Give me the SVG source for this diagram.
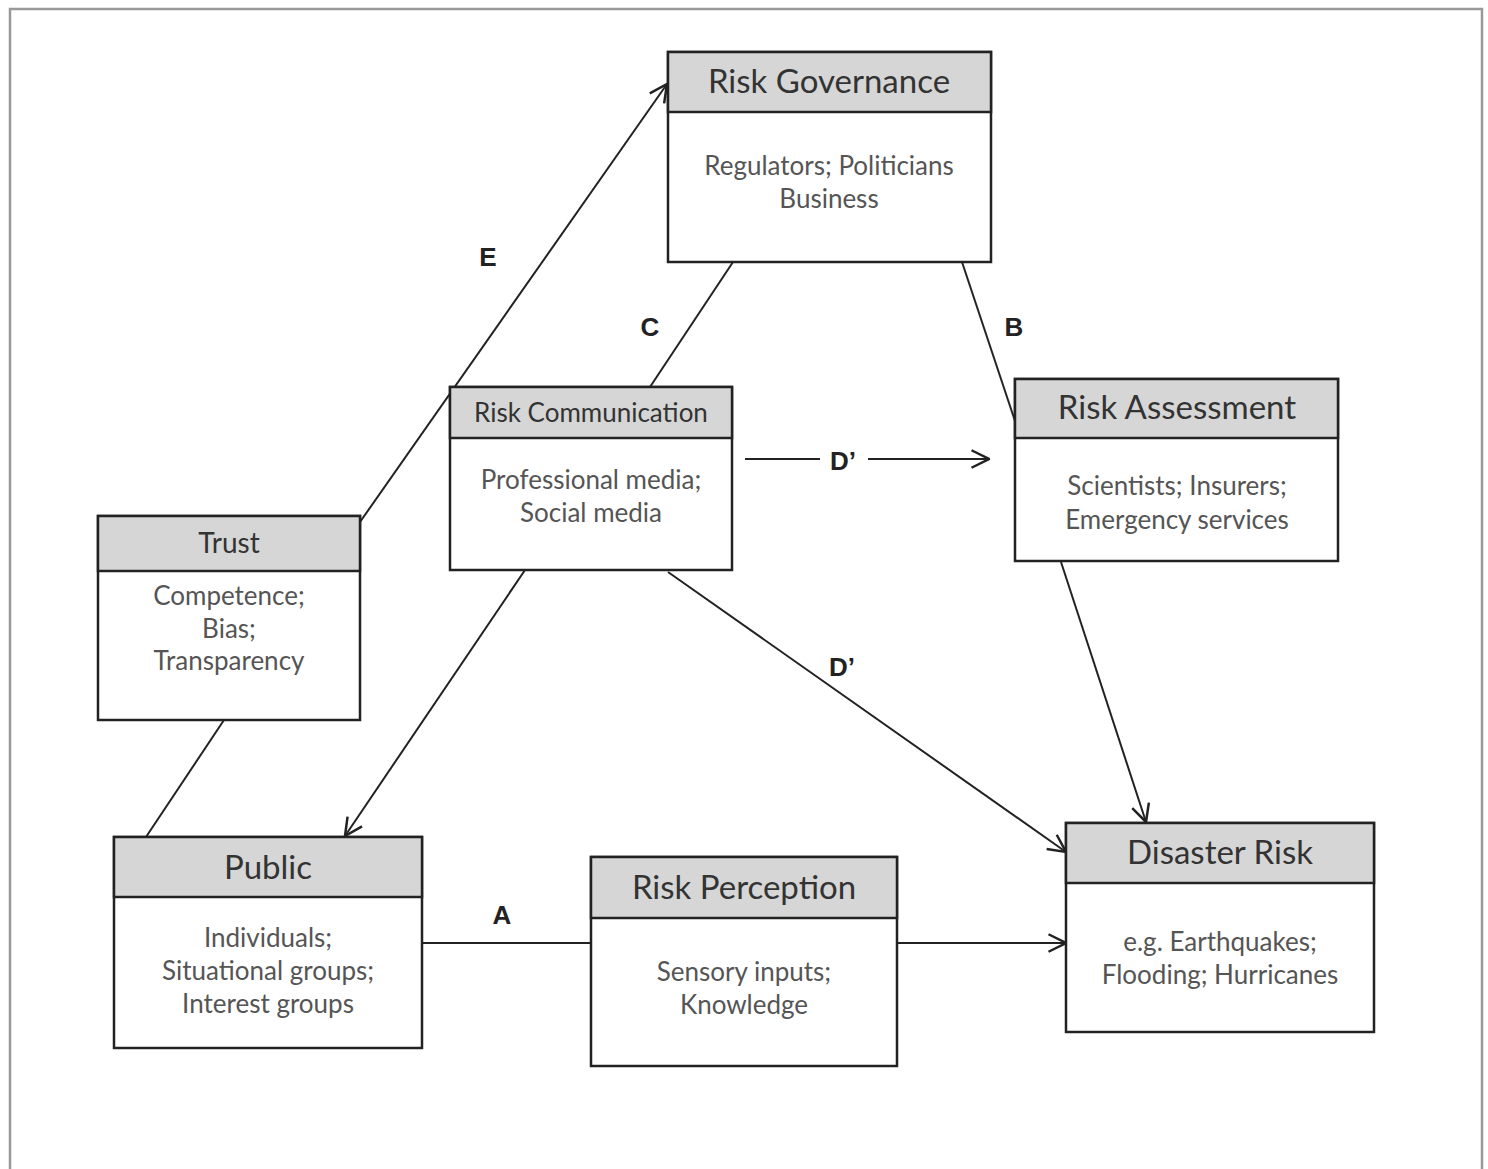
<svg xmlns="http://www.w3.org/2000/svg" width="1488" height="1169" viewBox="0 0 1488 1169">
<style>
.box{fill:#fff;stroke:#222;stroke-width:2.5}
.hdr{fill:#d6d6d6;stroke:#222;stroke-width:2.5}
.t{font-family:Lato,"Liberation Sans",sans-serif;fill:#333;text-anchor:middle}
.tl{font-size:33px}
.tm{font-size:28px}
.b{font-family:Lato,"Liberation Sans",sans-serif;fill:#555;font-size:26px;text-anchor:middle}
.lbl{font-family:"Liberation Sans",Arial,sans-serif;font-weight:bold;font-size:26px;fill:#222;text-anchor:middle}
.c{fill:none;stroke:#222;stroke-width:2}
</style>
<defs>
<marker id="arr2" viewBox="0 0 16 16" refX="15" refY="8" markerWidth="20" markerHeight="20" markerUnits="userSpaceOnUse" orient="auto">
<path d="M1,1 L15,8 L1,15" fill="none" stroke="#222" stroke-width="2"/>
</marker>
</defs>
<rect width="1488" height="1169" fill="#fff"/>
<path d="M10,1169 L10,9 L1482,9 L1482,1169" fill="none" stroke="#999" stroke-width="2.5"/>

<g id="connectors">
<line class="c" x1="360" y1="522" x2="667" y2="84" marker-end="url(#arr2)"/>
<line class="c" x1="733" y1="262" x2="650" y2="387"/>
<line class="c" x1="962" y1="262" x2="1016" y2="424"/>
<line class="c" x1="745" y1="459" x2="820" y2="459"/>
<line class="c" x1="868" y1="459" x2="989" y2="459" marker-end="url(#arr2)"/>
<line class="c" x1="668" y1="572" x2="1066" y2="852" marker-end="url(#arr2)"/>
<line class="c" x1="1061" y1="562" x2="1146" y2="822" marker-end="url(#arr2)"/>
<line class="c" x1="525" y1="570" x2="345" y2="836" marker-end="url(#arr2)"/>
<line class="c" x1="224" y1="720" x2="146" y2="837"/>
<line class="c" x1="422" y1="943" x2="591" y2="943"/>
<line class="c" x1="897" y1="943" x2="1066" y2="943" marker-end="url(#arr2)"/>
<text class="lbl" x="488" y="266">E</text>
<text class="lbl" x="650" y="336">C</text>
<text class="lbl" x="1014" y="336">B</text>
<text class="lbl" x="843" y="470">D’</text>
<text class="lbl" x="842" y="676">D’</text>
<text class="lbl" x="502" y="924">A</text>
</g>

<g id="risk-governance">
<rect class="box" x="668" y="52" width="323" height="210"/>
<rect class="hdr" x="668" y="52" width="323" height="60"/>
<text class="t tl" x="829" y="93">Risk Governance</text>
<text class="b" x="829" y="175">Regulators; Politicians</text>
<text class="b" x="829" y="208">Business</text>
</g>

<g id="risk-communication">
<rect class="box" x="450" y="387" width="282" height="183"/>
<rect class="hdr" x="450" y="387" width="282" height="51"/>
<text class="t" x="591" y="422" style="font-size:26px">Risk Communication</text>
<text class="b" x="591" y="489">Professional media;</text>
<text class="b" x="591" y="522">Social media</text>
</g>

<g id="risk-assessment">
<rect class="box" x="1015" y="379" width="323" height="182"/>
<rect class="hdr" x="1015" y="379" width="323" height="59"/>
<text class="t tl" x="1177" y="419">Risk Assessment</text>
<text class="b" x="1177" y="495">Scientists; Insurers;</text>
<text class="b" x="1177" y="529">Emergency services</text>
</g>

<g id="trust">
<rect class="box" x="98" y="516" width="262" height="204"/>
<rect class="hdr" x="98" y="516" width="262" height="55"/>
<text class="t tm" x="229" y="553">Trust</text>
<text class="b" x="229" y="605">Competence;</text>
<text class="b" x="229" y="638">Bias;</text>
<text class="b" x="229" y="670">Transparency</text>
</g>

<g id="public">
<rect class="box" x="114" y="837" width="308" height="211"/>
<rect class="hdr" x="114" y="837" width="308" height="60"/>
<text class="t tl" x="268" y="879">Public</text>
<text class="b" x="268" y="947">Individuals;</text>
<text class="b" x="268" y="980">Situational groups;</text>
<text class="b" x="268" y="1013">Interest groups</text>
</g>

<g id="risk-perception">
<rect class="box" x="591" y="857" width="306" height="209"/>
<rect class="hdr" x="591" y="857" width="306" height="61"/>
<text class="t tl" x="744" y="899">Risk Perception</text>
<text class="b" x="744" y="981">Sensory inputs;</text>
<text class="b" x="744" y="1014">Knowledge</text>
</g>

<g id="disaster-risk">
<rect class="box" x="1066" y="823" width="308" height="209"/>
<rect class="hdr" x="1066" y="823" width="308" height="60"/>
<text class="t tl" x="1220" y="864">Disaster Risk</text>
<text class="b" x="1220" y="951">e.g. Earthquakes;</text>
<text class="b" x="1220" y="984">Flooding; Hurricanes</text>
</g>
</svg>
